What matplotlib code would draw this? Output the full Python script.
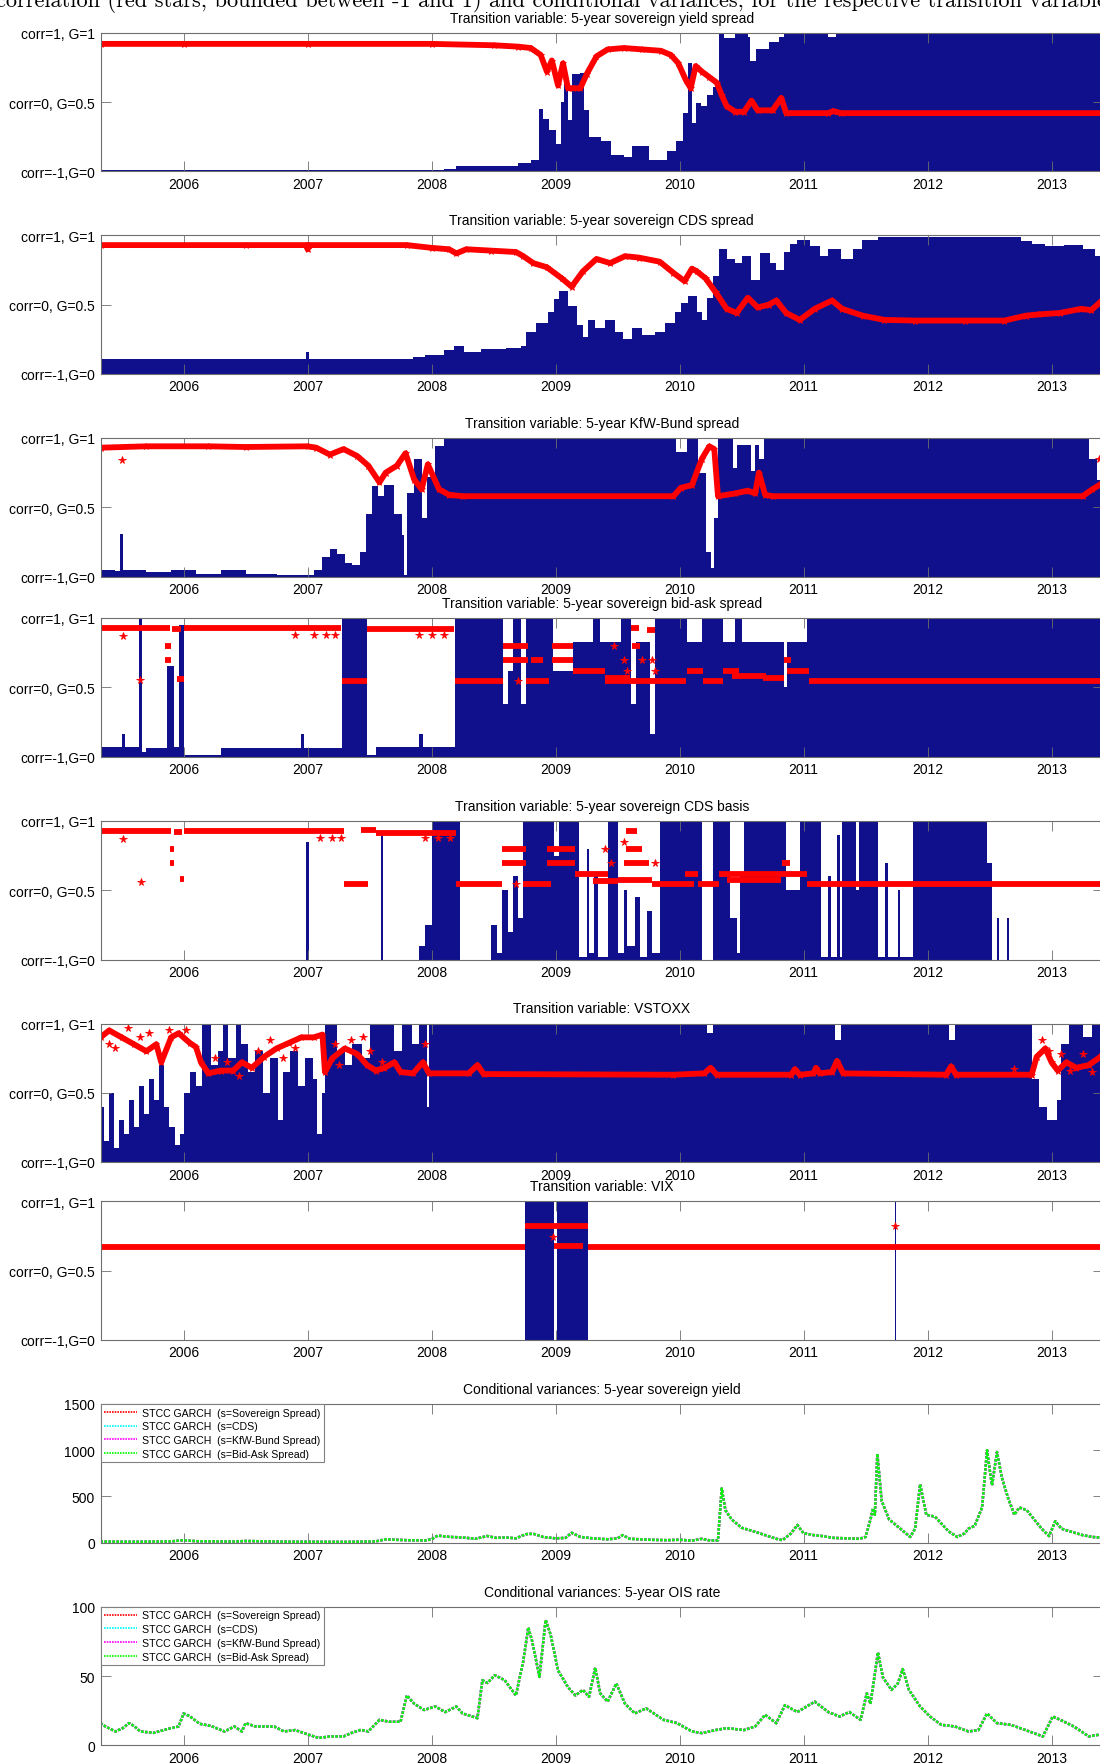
import matplotlib
matplotlib.use('Agg')
import matplotlib.pyplot as plt
import numpy as np

plt.rcParams['font.family'] = ['Liberation Sans', 'DejaVu Sans']

# ---------------- data (x in decimal years) ----------------
years = [2006, 2007, 2008, 2009, 2010, 2011, 2012, 2013]
data_end = 2013.45
g_ticks = [0, 0.5, 1]
g_ticklabels = ['corr=-1,G=0', 'corr=0, G=0.5', 'corr=1, G=1']

titles = ['Transition variable: 5-year sovereign yield spread',
          'Transition variable: 5-year sovereign CDS spread',
          'Transition variable: 5-year KfW-Bund spread',
          'Transition variable: 5-year sovereign bid-ask spread',
          'Transition variable: 5-year sovereign CDS basis',
          'Transition variable: VSTOXX',
          'Transition variable: VIX',
          'Conditional variances: 5-year sovereign yield',
          'Conditional variances: 5-year OIS rate']

legend_labels = ['STCC GARCH  (s=Sovereign Spread)', 'STCC GARCH  (s=CDS)',
                 'STCC GARCH  (s=KfW-Bund Spread)', 'STCC GARCH  (s=Bid-Ask Spread)']

# transition function G: (bar start, height)
g1 = [(2005.33, 0.01), (2008.1, 0.02), (2008.2, 0.04), (2008.7, 0.06), (2008.8, 0.08),
      (2008.87, 0.45), (2008.9, 0.38), (2008.95, 0.3), (2009.0, 0.2), (2009.04, 0.5),
      (2009.07, 0.66), (2009.1, 0.37), (2009.13, 0.7), (2009.2, 0.71), (2009.23, 0.44),
      (2009.27, 0.25), (2009.37, 0.22), (2009.45, 0.12), (2009.55, 0.1), (2009.62, 0.18),
      (2009.75, 0.08), (2009.9, 0.15), (2009.97, 0.22), (2010.03, 0.42), (2010.07, 0.78),
      (2010.1, 0.35), (2010.13, 0.49), (2010.17, 0.47), (2010.22, 0.55), (2010.27, 0.61),
      (2010.32, 1.0), (2010.36, 0.96), (2010.45, 1.0), (2010.55, 0.97), (2010.57, 0.8),
      (2010.62, 0.88), (2010.72, 0.93), (2010.8, 0.97), (2010.84, 1.0), (2011.2, 0.97),
      (2011.26, 1.0)]
g2 = [(2005.33, 0.11), (2006.99, 0.16), (2007.01, 0.11), (2007.85, 0.12), (2007.95, 0.14),
      (2008.1, 0.17), (2008.18, 0.2), (2008.26, 0.16), (2008.4, 0.18), (2008.6, 0.19),
      (2008.72, 0.2), (2008.76, 0.3), (2008.84, 0.37), (2008.94, 0.45), (2008.99, 0.54),
      (2009.03, 0.6), (2009.1, 0.49), (2009.17, 0.35), (2009.22, 0.27), (2009.26, 0.39),
      (2009.32, 0.33), (2009.4, 0.39), (2009.48, 0.3), (2009.54, 0.25), (2009.62, 0.33),
      (2009.7, 0.28), (2009.8, 0.3), (2009.88, 0.37), (2009.96, 0.45), (2010.01, 0.51),
      (2010.07, 0.56), (2010.14, 0.45), (2010.18, 0.39), (2010.22, 0.55), (2010.27, 0.71),
      (2010.32, 0.9), (2010.38, 0.83), (2010.45, 0.8), (2010.5, 0.85), (2010.58, 0.68),
      (2010.65, 0.87), (2010.73, 0.8), (2010.78, 0.75), (2010.84, 0.88), (2010.89, 0.94),
      (2010.95, 0.97), (2011.05, 0.92), (2011.13, 0.85), (2011.2, 0.9), (2011.3, 0.83),
      (2011.4, 0.9), (2011.47, 0.97), (2011.6, 0.99), (2012.75, 0.96), (2012.84, 0.94),
      (2012.95, 0.92), (2013.1, 0.93), (2013.25, 0.9), (2013.35, 0.85)]
g3 = [(2005.33, 0.05), (2005.45, 0.04), (2005.49, 0.31), (2005.51, 0.05), (2005.7, 0.03),
      (2005.9, 0.05), (2006.1, 0.02), (2006.3, 0.05), (2006.5, 0.02), (2006.75, 0.01),
      (2007.05, 0.05), (2007.12, 0.14), (2007.18, 0.2), (2007.24, 0.16), (2007.3, 0.1),
      (2007.36, 0.08), (2007.42, 0.18), (2007.47, 0.45), (2007.52, 0.65), (2007.57, 0.58),
      (2007.62, 0.66), (2007.7, 0.45), (2007.76, 0.3), (2007.78, 0.01), (2007.8, 0.6),
      (2007.86, 0.85), (2007.92, 0.42), (2007.96, 0.72), (2008.03, 0.94), (2008.1, 1.0),
      (2009.97, 0.9), (2010.06, 1.0), (2010.15, 0.75), (2010.21, 0.18), (2010.25, 0.06),
      (2010.28, 0.42), (2010.31, 1.0), (2010.43, 0.78), (2010.46, 0.95), (2010.58, 0.76),
      (2010.61, 0.95), (2010.64, 0.85), (2010.68, 1.0), (2013.3, 0.85), (2013.37, 0.7)]
g4 = [(2005.33, 0.07), (2005.5, 0.16), (2005.53, 0.07), (2005.64, 1.0), (2005.665, 0.03),
      (2005.7, 0.06), (2005.87, 0.65), (2005.92, 0.07), (2005.96, 0.95), (2006.0, 0.01),
      (2006.3, 0.06), (2006.95, 0.16), (2006.97, 0.06), (2007.28, 1.0), (2007.48, 0.01),
      (2007.55, 0.07), (2007.9, 0.16), (2007.93, 0.07), (2008.19, 1.0), (2008.58, 0.38),
      (2008.62, 0.62), (2008.66, 1.0), (2008.72, 0.38), (2008.76, 1.0), (2008.98, 0.62),
      (2009.14, 0.83), (2009.3, 1.0), (2009.36, 0.83), (2009.53, 1.0), (2009.61, 0.38),
      (2009.65, 0.83), (2009.76, 0.16), (2009.8, 1.0), (2010.06, 0.83), (2010.18, 1.0),
      (2010.35, 0.83), (2010.45, 1.0), (2010.5, 0.83), (2010.84, 0.5), (2010.87, 0.83),
      (2011.03, 1.0)]
g5 = [(2005.33, 0.0), (2006.99, 0.85), (2007.01, 0.0), (2007.59, 0.9), (2007.61, 0.0),
      (2007.9, 0.1), (2007.95, 0.25), (2008.0, 1.0), (2008.23, 0.0), (2008.48, 0.25),
      (2008.53, 0.05), (2008.57, 0.5), (2008.62, 0.2), (2008.66, 0.6), (2008.7, 0.3),
      (2008.74, 1.0), (2008.99, 0.75), (2009.03, 1.0), (2009.19, 0.02), (2009.25, 0.8),
      (2009.27, 0.05), (2009.31, 0.6), (2009.34, 0.02), (2009.42, 1.0), (2009.5, 0.05),
      (2009.55, 0.5), (2009.58, 0.1), (2009.64, 0.45), (2009.68, 0.02), (2009.74, 0.35),
      (2009.78, 0.05), (2009.84, 1.0), (2010.18, 0.0), (2010.27, 1.0), (2010.41, 0.3),
      (2010.46, 0.05), (2010.49, 0.6), (2010.52, 1.0), (2010.86, 0.5), (2010.97, 1.0),
      (2011.14, 0.02), (2011.2, 0.6), (2011.22, 0.02), (2011.27, 0.9), (2011.29, 0.02),
      (2011.31, 1.0), (2011.42, 0.5), (2011.45, 1.0), (2011.6, 0.02), (2011.66, 0.7),
      (2011.68, 0.02), (2011.76, 0.5), (2011.78, 0.02), (2011.88, 1.0), (2012.48, 0.7),
      (2012.52, 0.0), (2012.56, 0.3), (2012.58, 0.0), (2012.64, 0.3), (2012.655, 0.0)]
g6 = [(2005.33, 0.4), (2005.36, 0.15), (2005.4, 0.5), (2005.44, 0.1), (2005.48, 0.3),
      (2005.52, 0.2), (2005.56, 0.45), (2005.6, 0.25), (2005.64, 0.55), (2005.68, 0.35),
      (2005.72, 0.6), (2005.76, 0.45), (2005.8, 0.7), (2005.84, 0.4), (2005.88, 0.25),
      (2005.93, 0.12), (2005.97, 0.2), (2006.0, 0.5), (2006.05, 0.65), (2006.1, 0.55),
      (2006.15, 1.0), (2006.22, 0.7), (2006.28, 0.8), (2006.32, 1.0), (2006.36, 0.75),
      (2006.42, 1.0), (2006.46, 0.85), (2006.52, 0.65), (2006.58, 0.8), (2006.64, 0.5),
      (2006.7, 0.75), (2006.76, 0.3), (2006.8, 0.65), (2006.86, 0.8), (2006.92, 0.55),
      (2006.98, 0.75), (2007.04, 0.6), (2007.08, 0.2), (2007.12, 0.5), (2007.14, 1.0),
      (2007.24, 0.8), (2007.3, 0.7), (2007.36, 0.85), (2007.44, 0.75), (2007.5, 1.0),
      (2007.7, 0.8), (2007.76, 1.0), (2007.84, 0.85), (2007.9, 1.0), (2007.96, 0.4),
      (2007.98, 1.0), (2010.22, 0.93), (2010.27, 1.0), (2011.25, 0.88), (2011.3, 1.0),
      (2012.17, 0.88), (2012.22, 1.0), (2012.84, 0.6), (2012.9, 0.4), (2012.96, 0.3),
      (2013.04, 0.45), (2013.08, 0.85), (2013.14, 1.0), (2013.25, 0.9), (2013.33, 1.0)]
g7 = [(2005.33, 0.0), (2008.75, 1.0), (2008.99, 0.0), (2009.01, 1.0), (2009.26, 0.0),
      (2011.735, 1.0), (2011.745, 0.0)]

# conditional correlation, on the G scale: smooth paths (x, value)
rho1 = [(2005.33, 0.92), (2006.0, 0.92), (2007.0, 0.92), (2008.0, 0.92), (2008.5, 0.91),
        (2008.7, 0.9), (2008.8, 0.89), (2008.88, 0.84), (2008.93, 0.72), (2008.97, 0.8),
        (2009.02, 0.62), (2009.06, 0.78), (2009.1, 0.6), (2009.14, 0.6), (2009.2, 0.6),
        (2009.25, 0.7), (2009.33, 0.83), (2009.42, 0.88), (2009.55, 0.89), (2009.7, 0.88),
        (2009.85, 0.87), (2009.93, 0.84), (2009.99, 0.78), (2010.05, 0.66), (2010.09, 0.6),
        (2010.13, 0.76), (2010.18, 0.72), (2010.24, 0.68), (2010.3, 0.64), (2010.34, 0.55),
        (2010.38, 0.47), (2010.45, 0.43), (2010.52, 0.43), (2010.58, 0.51), (2010.63, 0.44),
        (2010.75, 0.44), (2010.82, 0.53), (2010.86, 0.42), (2011.2, 0.42), (2011.24, 0.435),
        (2011.3, 0.42), (2013.45, 0.42)]
rho2 = [(2005.33, 0.93), (2006.5, 0.93), (2006.99, 0.93), (2007.0, 0.9), (2007.01, 0.93),
        (2007.8, 0.93), (2008.0, 0.91), (2008.14, 0.9), (2008.2, 0.87), (2008.28, 0.9),
        (2008.48, 0.89), (2008.68, 0.88), (2008.74, 0.85), (2008.82, 0.8), (2008.93, 0.77),
        (2009.05, 0.69), (2009.13, 0.63), (2009.22, 0.74), (2009.33, 0.83), (2009.44, 0.8),
        (2009.56, 0.85), (2009.67, 0.84), (2009.84, 0.81), (2009.95, 0.73), (2010.04, 0.67),
        (2010.1, 0.76), (2010.14, 0.74), (2010.21, 0.69), (2010.29, 0.59), (2010.38, 0.47),
        (2010.46, 0.44), (2010.55, 0.55), (2010.63, 0.48), (2010.72, 0.5), (2010.78, 0.53),
        (2010.86, 0.44), (2010.97, 0.39), (2011.09, 0.47), (2011.23, 0.53), (2011.31, 0.47),
        (2011.48, 0.42), (2011.65, 0.39), (2011.9, 0.385), (2012.3, 0.385), (2012.62, 0.385),
        (2012.79, 0.42), (2012.9, 0.43), (2013.07, 0.44), (2013.24, 0.47), (2013.32, 0.46),
        (2013.42, 0.54)]
rho3 = [(2005.33, 0.93), (2005.7, 0.94), (2006.2, 0.94), (2006.5, 0.935), (2007.0, 0.94),
        (2007.07, 0.93), (2007.18, 0.88), (2007.29, 0.92), (2007.4, 0.87), (2007.49, 0.8),
        (2007.58, 0.68), (2007.63, 0.75), (2007.72, 0.8), (2007.79, 0.89), (2007.86, 0.7),
        (2007.92, 0.63), (2007.97, 0.81), (2008.06, 0.63), (2008.14, 0.59), (2008.25, 0.58),
        (2009.95, 0.58), (2010.01, 0.64), (2010.1, 0.66), (2010.18, 0.85), (2010.24, 0.94),
        (2010.28, 0.92), (2010.31, 0.58), (2010.45, 0.6), (2010.55, 0.62), (2010.61, 0.6),
        (2010.64, 0.75), (2010.69, 0.59), (2010.75, 0.58), (2013.25, 0.58), (2013.33, 0.63),
        (2013.42, 0.68)]
rho6 = [(2005.33, 0.9), (2005.4, 0.95), (2005.5, 0.9), (2005.6, 0.85), (2005.7, 0.8),
        (2005.78, 0.85), (2005.82, 0.72), (2005.9, 0.9), (2005.96, 0.93), (2006.05, 0.86),
        (2006.1, 0.83), (2006.14, 0.72), (2006.2, 0.64), (2006.3, 0.66), (2006.4, 0.66),
        (2006.47, 0.72), (2006.55, 0.68), (2006.65, 0.76), (2006.75, 0.82), (2006.85, 0.86),
        (2006.95, 0.9), (2007.05, 0.9), (2007.12, 0.92), (2007.14, 0.65), (2007.2, 0.75),
        (2007.3, 0.82), (2007.4, 0.78), (2007.48, 0.7), (2007.55, 0.66), (2007.62, 0.68),
        (2007.7, 0.72), (2007.75, 0.65), (2007.85, 0.64), (2007.93, 0.72), (2007.98, 0.64),
        (2008.3, 0.64), (2008.37, 0.7), (2008.42, 0.635), (2009.95, 0.63), (2010.2, 0.64),
        (2010.25, 0.68), (2010.3, 0.63), (2010.9, 0.63), (2010.93, 0.67), (2010.97, 0.63),
        (2011.08, 0.64), (2011.1, 0.68), (2011.13, 0.64), (2011.23, 0.65), (2011.27, 0.73),
        (2011.32, 0.64), (2012.15, 0.63), (2012.19, 0.69), (2012.23, 0.63), (2012.84, 0.63),
        (2012.88, 0.76), (2012.95, 0.82), (2013.0, 0.72), (2013.05, 0.66), (2013.12, 0.72),
        (2013.2, 0.68), (2013.3, 0.7), (2013.38, 0.75), (2013.42, 0.78)]

# conditional correlation in regimes: (start, end, level)
rho4 = [(2005.33, 2005.89, 0.93), (2005.85, 2005.9, 0.80), (2005.85, 2005.9, 0.70),
        (2005.91, 2005.98, 0.92), (2005.95, 2006.0, 0.56), (2006.0, 2007.27, 0.93),
        (2007.28, 2007.48, 0.545), (2007.48, 2008.18, 0.92), (2008.19, 2008.58, 0.545),
        (2008.58, 2008.78, 0.80), (2008.58, 2008.78, 0.70), (2008.76, 2008.95, 0.545),
        (2008.8, 2008.9, 0.70), (2008.97, 2009.14, 0.80), (2008.97, 2009.14, 0.70),
        (2009.14, 2009.4, 0.62), (2009.4, 2010.05, 0.545), (2009.4, 2009.6, 0.57),
        (2009.61, 2009.67, 0.93), (2009.74, 2009.8, 0.91), (2009.62, 2009.68, 0.80),
        (2010.06, 2010.19, 0.62), (2010.19, 2010.35, 0.545), (2010.35, 2010.48, 0.62),
        (2010.42, 2010.7, 0.58), (2010.67, 2010.84, 0.57), (2010.84, 2010.9, 0.70),
        (2010.87, 2011.04, 0.62), (2011.04, 2013.45, 0.545)]
rho5 = [(2005.33, 2005.9, 0.93), (2005.89, 2005.92, 0.80), (2005.89, 2005.92, 0.70),
        (2005.92, 2005.99, 0.92), (2005.97, 2006.0, 0.58), (2006.0, 2007.29, 0.93),
        (2007.29, 2007.49, 0.545), (2007.43, 2007.55, 0.935), (2007.55, 2008.2, 0.91),
        (2008.2, 2008.57, 0.545), (2008.57, 2008.76, 0.80), (2008.57, 2008.76, 0.70),
        (2008.74, 2008.96, 0.545), (2008.93, 2009.16, 0.80), (2008.93, 2009.16, 0.70),
        (2009.16, 2009.42, 0.62), (2009.3, 2009.5, 0.57), (2009.57, 2009.66, 0.93),
        (2009.57, 2009.7, 0.80), (2009.55, 2009.75, 0.70), (2009.5, 2009.78, 0.575),
        (2009.78, 2010.12, 0.545), (2010.04, 2010.15, 0.62), (2010.15, 2010.32, 0.545),
        (2010.32, 2010.86, 0.62), (2010.38, 2010.82, 0.575), (2010.83, 2010.89, 0.70),
        (2010.86, 2011.03, 0.62), (2011.03, 2013.45, 0.545)]
rho7 = [(2005.33, 2008.75, 0.67), (2008.75, 2009.26, 0.82), (2008.99, 2009.22, 0.675),
        (2009.26, 2013.45, 0.67)]

# isolated correlation stars
stars3 = [(2005.5, 0.84), (2013.38, 0.85)]
stars4 = [(2005.51, 0.87), (2005.65, 0.55), (2006.9, 0.88), (2007.05, 0.88), (2007.15, 0.88),
          (2007.22, 0.88), (2007.9, 0.88), (2008.0, 0.88), (2008.1, 0.88), (2008.7, 0.545),
          (2009.47, 0.8), (2009.55, 0.7), (2009.58, 0.62), (2009.7, 0.7), (2009.78, 0.7),
          (2009.8, 0.62)]
stars5 = [(2005.51, 0.87), (2005.66, 0.56), (2007.1, 0.88), (2007.2, 0.88), (2007.27, 0.88),
          (2007.95, 0.88), (2008.05, 0.88), (2008.15, 0.88), (2008.68, 0.545), (2009.4, 0.8),
          (2009.45, 0.7), (2009.8, 0.7), (2009.55, 0.85)]
stars6 = [(2005.4, 0.85), (2005.45, 0.82), (2005.55, 0.97), (2005.65, 0.9), (2005.72, 0.93),
          (2005.88, 0.95), (2006.02, 0.95), (2006.25, 0.75), (2006.35, 0.72), (2006.45, 0.62),
          (2006.6, 0.8), (2006.7, 0.88), (2006.8, 0.75), (2006.9, 0.82), (2007.22, 0.85),
          (2007.25, 0.7), (2007.35, 0.88), (2007.45, 0.9), (2007.5, 0.8), (2007.6, 0.72),
          (2007.95, 0.85), (2012.7, 0.67), (2012.92, 0.88), (2012.98, 0.8), (2013.08, 0.78),
          (2013.15, 0.66), (2013.25, 0.78), (2013.33, 0.65)]
stars7 = [(2011.74, 0.82), (2008.98, 0.74)]

# conditional variances (all four models lie on top of each other)
var_yield = [(2005.33, 10), (2005.6, 8), (2005.9, 12), (2006.0, 25), (2006.1, 14), (2006.4, 10),
             (2006.5, 16), (2006.8, 9), (2007.0, 8), (2007.3, 6), (2007.55, 12), (2007.63, 35),
             (2007.7, 30), (2007.8, 25), (2007.95, 22), (2008.0, 35), (2008.05, 75), (2008.15, 60),
             (2008.25, 55), (2008.35, 40), (2008.45, 70), (2008.52, 50), (2008.6, 55), (2008.68, 45),
             (2008.76, 90), (2008.82, 95), (2008.9, 60), (2009.0, 45), (2009.08, 50), (2009.13, 105),
             (2009.2, 60), (2009.3, 45), (2009.42, 35), (2009.5, 45), (2009.54, 80), (2009.6, 40),
             (2009.75, 30), (2009.9, 25), (2010.0, 30), (2010.1, 20), (2010.18, 40), (2010.25, 20),
             (2010.31, 25), (2010.34, 585), (2010.37, 350), (2010.42, 250), (2010.5, 160),
             (2010.6, 120), (2010.69, 80), (2010.78, 40), (2010.83, 25), (2010.9, 100),
             (2010.95, 190), (2011.0, 100), (2011.08, 80), (2011.15, 70), (2011.24, 50),
             (2011.35, 45), (2011.45, 40), (2011.5, 60), (2011.54, 250), (2011.56, 370),
             (2011.575, 300), (2011.595, 960), (2011.63, 450), (2011.69, 250), (2011.78, 150),
             (2011.86, 60), (2011.9, 150), (2011.94, 630), (2011.99, 300), (2012.06, 280),
             (2012.17, 120), (2012.24, 60), (2012.3, 100), (2012.33, 150), (2012.38, 180),
             (2012.44, 380), (2012.48, 1000), (2012.5, 800), (2012.52, 620), (2012.56, 980),
             (2012.6, 700), (2012.65, 480), (2012.7, 300), (2012.74, 380), (2012.8, 350),
             (2012.86, 250), (2012.92, 150), (2012.98, 70), (2013.03, 230), (2013.08, 150),
             (2013.15, 120), (2013.25, 80), (2013.33, 60), (2013.42, 50)]
var_ois = [(2005.33, 16), (2005.37, 13.6), (2005.45, 10), (2005.51, 12.4), (2005.56, 16),
           (2005.6, 14), (2005.65, 10), (2005.76, 9), (2005.88, 12), (2005.96, 13.6),
           (2006.0, 23), (2006.05, 21), (2006.13, 15.5), (2006.22, 14), (2006.33, 10),
           (2006.41, 13.6), (2006.47, 10), (2006.5, 16), (2006.58, 13.6), (2006.73, 13.6),
           (2006.81, 10), (2006.9, 11), (2007.01, 7.6), (2007.09, 5.3), (2007.18, 6.4),
           (2007.29, 6.4), (2007.35, 8.8), (2007.43, 11.2), (2007.49, 10), (2007.58, 18.4),
           (2007.66, 17), (2007.75, 17), (2007.8, 36), (2007.86, 30), (2007.94, 25.5),
           (2008.03, 28), (2008.11, 24), (2008.2, 28), (2008.25, 23), (2008.37, 19.6),
           (2008.41, 47), (2008.45, 45), (2008.51, 50.6), (2008.59, 47), (2008.68, 36),
           (2008.74, 61), (2008.78, 85), (2008.81, 75.7), (2008.87, 49.4), (2008.92, 90.5),
           (2008.96, 80), (2009.02, 54), (2009.1, 42), (2009.16, 36), (2009.22, 40),
           (2009.27, 35), (2009.32, 56), (2009.36, 37.5), (2009.42, 31.5), (2009.49, 44.6),
           (2009.56, 30), (2009.64, 23), (2009.73, 26.7), (2009.87, 18.4), (2009.98, 16),
           (2010.1, 10), (2010.18, 8.8), (2010.29, 11), (2010.38, 12.4), (2010.52, 11),
           (2010.61, 13.6), (2010.69, 22), (2010.78, 16), (2010.85, 29), (2010.95, 24),
           (2011.09, 31.5), (2011.2, 24), (2011.29, 20.8), (2011.37, 24), (2011.46, 18.4),
           (2011.51, 37.5), (2011.54, 30), (2011.6, 67), (2011.64, 49), (2011.71, 40),
           (2011.76, 44.6), (2011.8, 55), (2011.85, 40), (2011.94, 28), (2012.02, 20.8),
           (2012.11, 14.8), (2012.22, 13.6), (2012.33, 10), (2012.41, 11), (2012.48, 23),
           (2012.56, 16), (2012.67, 14.8), (2012.79, 11), (2012.93, 6.4), (2013.01, 20.8),
           (2013.07, 18.4), (2013.18, 13.6), (2013.3, 6.4), (2013.38, 7.6)]

# ---------------- layout ----------------
NAVY = '#10108c'
RED = '#ff0000'
SPINE = '#6e6e6e'
W, H = 1100, 1765
ax_left, ax_right = 100.5, 1103
ax_h = 138.5
panel_tops = [33.8, 236.4, 439, 619, 822, 1024.5, 1202.4, 1405, 1607.8]
xlim = (2005.33, 2013.415)

fig = plt.figure(figsize=(W / 100, H / 100), dpi=100)


def make_axes(top):
    ax = fig.add_axes([ax_left / W, 1 - (top + ax_h) / H, (ax_right - ax_left) / W, ax_h / H])
    ax.set_xlim(*xlim)
    ax.set_xticks(years)
    ax.set_xticklabels([str(y) for y in years])
    ax.tick_params(direction='in', length=7, width=0.6, color=SPINE, top=True, right=True,
                   labelsize=10, pad=4)
    for s in ax.spines.values():
        s.set_color(SPINE)
        s.set_linewidth(0.8)
    return ax


def draw_bars(ax, pairs):
    x = np.array([p[0] for p in pairs])
    h = np.array([p[1] for p in pairs])
    w = np.diff(np.append(x, data_end))
    ax.bar(x, h, width=w, align='edge', color=NAVY, linewidth=0)


def draw_path(ax, pairs):
    x = [p[0] for p in pairs]
    y = [p[1] for p in pairs]
    ax.plot(x, y, color=RED, lw=4.2, marker='*', ms=5, mew=0.6, solid_joinstyle='round')


def draw_regimes(ax, segs):
    for x0, x1, lvl in segs:
        ax.plot([x0, x1], [lvl, lvl], color=RED, lw=4.2, solid_capstyle='butt')


def draw_stars(ax, pts):
    ax.plot([p[0] for p in pts], [p[1] for p in pts], ls='none', marker='*',
            color=RED, ms=5.5, mew=0.6)


g_series = [g1, g2, g3, g4, g5, g6, g7]
rho_paths = {0: rho1, 1: rho2, 2: rho3, 5: rho6}
rho_regimes = {3: rho4, 4: rho5, 6: rho7}
star_sets = {2: stars3, 3: stars4, 4: stars5, 5: stars6, 6: stars7}

for i in range(7):
    ax = make_axes(panel_tops[i])
    draw_bars(ax, g_series[i])
    if i in rho_paths:
        draw_path(ax, rho_paths[i])
    if i in rho_regimes:
        draw_regimes(ax, rho_regimes[i])
    if i in star_sets:
        draw_stars(ax, star_sets[i])
    ax.set_ylim(0, 1)
    ax.set_yticks(g_ticks)
    ax.set_yticklabels(g_ticklabels)
    ax.set_title(titles[i], fontsize=10, pad=8)

var_colors = ['#ff0000', '#00ffff', '#ff00ff', '#00ff00']
var_sets = [(var_yield, [0, 500, 1000, 1500]), (var_ois, [0, 50, 100])]
for j, (series, yt) in enumerate(var_sets):
    ax = make_axes(panel_tops[7 + j])
    x = [p[0] for p in series]
    y = [p[1] for p in series]
    for c, lab in zip(var_colors, legend_labels):
        ax.plot(x, y, color=c, lw=1.8, ls=(0, (1.0, 0.6)), label=lab)
    ax.set_ylim(yt[0], yt[-1])
    ax.set_yticks(yt)
    ax.set_yticklabels([str(v) for v in yt])
    ax.set_title(titles[7 + j], fontsize=10, pad=8)
    leg = ax.legend(loc='upper left', bbox_to_anchor=(0, 1), borderaxespad=0, fontsize=7.6,
                    fancybox=False, edgecolor='#808080', framealpha=1, handlelength=3.1,
                    handletextpad=0.45, labelspacing=0.35, borderpad=0.35)
    leg.get_frame().set_linewidth(0.8)
    for ln in leg.get_lines():
        ln.set_linewidth(1.2)

# figure caption, cut at the top edge as in the source crop
fig.text(-4 / W, 1 - 7.3 / H,
         'correlation (red stars, bounded between -1 and 1) and conditional variances, '
         'for the respective transition variables',
         family='cmr10', fontsize=16.1, ha='left', va='baseline')

fig.savefig('out.png', dpi=100)
